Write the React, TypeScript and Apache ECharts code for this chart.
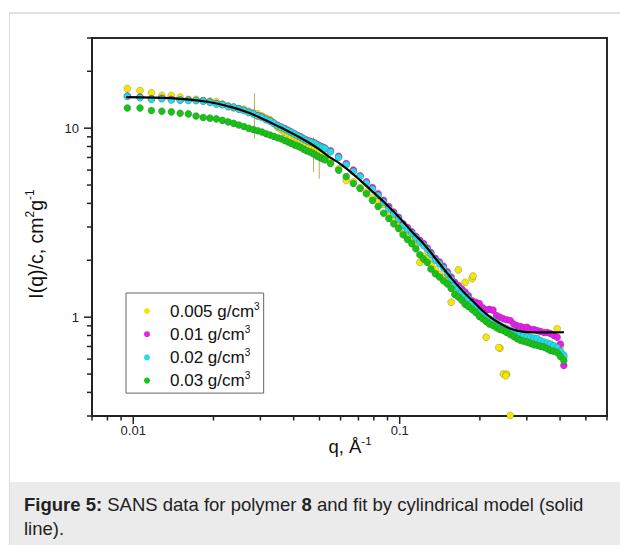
import React, { useEffect, useRef } from "react";
import * as echarts from "echarts";

const FONT = "'Liberation Sans', Arial, Helvetica, sans-serif";

// Legend / series names
const seriesNames = ["0.005 g/cm3", "0.01 g/cm3", "0.02 g/cm3", "0.03 g/cm3"];
const seriesColors = ["#f4e800", "#e61ee6", "#22dde6", "#16c416"];

// Low-q instrument configuration (q, 1/Å)
const qLow = [
  0.0095, 0.0106, 0.0117, 0.0128, 0.0139, 0.015, 0.0161, 0.0172, 0.0183, 0.0194,
  0.0205, 0.0216, 0.0227, 0.0238, 0.0249, 0.026, 0.0271, 0.0282, 0.0293, 0.0304,
  0.0315, 0.0326, 0.0337, 0.0348, 0.0359, 0.037, 0.0381, 0.0392, 0.0403, 0.0414,
  0.0425, 0.0436, 0.0447, 0.0458, 0.0469, 0.048, 0.0491, 0.0502, 0.0513, 0.0524,
];
const yellowLow = [
  16.2, 15.8, 15.4, 14.9, 14.9, 14.6, 14.2, 14.2, 14.0, 13.9,
  13.8, 13.4, 13.1, 12.8, 12.7, 12.6, 12.3, 12.0, 11.9, 11.6,
  11.3, 11.1, 10.6, 10.1, 9.8, 9.5, 9.3, 9.0, 8.9, 8.8,
  8.6, 8.4, 8.2, 8.0, 7.9, 7.8, 7.7, 7.6, 7.3, 7.1,
];
const magentaLow = [
  14.8, 14.6, 14.3, 14.4, 14.2, 14.1, 14.1, 14.0, 13.95, 13.75,
  13.5, 13.35, 13.05, 12.95, 12.65, 12.45, 12.15, 11.95, 11.65, 11.45,
  11.15, 10.95, 10.65, 10.35, 10.15, 9.95, 9.75, 9.55, 9.35, 9.15,
  9.0, 8.8, 8.65, 8.55, 8.45, 8.35, 8.2, 8.05, 7.95, 7.85,
];
const cyanLow = [
  14.7, 14.5, 14.2, 14.3, 14.1, 14.1, 14.0, 14.0, 13.9, 13.7,
  13.4, 13.3, 13.0, 12.9, 12.6, 12.4, 12.1, 11.9, 11.6, 11.4,
  11.1, 10.9, 10.6, 10.3, 10.1, 9.9, 9.7, 9.5, 9.3, 9.1,
  8.95, 8.75, 8.6, 8.5, 8.4, 8.3, 8.15, 8.0, 7.9, 7.8,
];
const greenLow = [
  12.8, 12.8, 12.4, 12.3, 12.2, 12.0, 11.9, 11.6, 11.4, 11.3,
  11.2, 11.0, 10.8, 10.6, 10.4, 10.2, 10.0, 9.85, 9.7, 9.55,
  9.35, 9.2, 9.05, 8.9, 8.8, 8.6, 8.45, 8.3, 8.15, 8.05,
  7.9, 7.75, 7.6, 7.5, 7.4, 7.25, 7.1, 7.0, 6.9, 6.8,
];

// Mid/high-q configuration
const qHigh = [
  0.055, 0.059, 0.063, 0.067, 0.071, 0.075, 0.079, 0.083, 0.087, 0.091,
  0.095, 0.099, 0.103, 0.107, 0.111, 0.115, 0.119, 0.123, 0.127, 0.131,
  0.136, 0.141, 0.146, 0.151, 0.156, 0.161, 0.166, 0.171, 0.176, 0.181,
  0.187, 0.193, 0.199, 0.205, 0.211, 0.217, 0.224, 0.231, 0.238, 0.245,
  0.252, 0.26, 0.268, 0.276, 0.284, 0.292, 0.301, 0.31, 0.319, 0.328,
  0.338, 0.348, 0.358, 0.368, 0.379, 0.39, 0.401, 0.413,
];
const yellowHigh = [
  6.7, 6.1, 5.3, 5.2, 4.85, 4.6, 4.3, 4.1, 3.95, 3.5,
  3.25, 3.06, 2.78, 2.65, 2.55, 2.4, 1.95, 2.1, 2.05, 1.9,
  1.78, 1.68, 1.6, 1.55, 1.2, 1.4, 1.78, 1.3, 1.53, 1.22,
  1.6, 1.1, 1.05, 1.0, 0.784, 0.95, 0.92, 0.9, 0.686, 0.5,
  0.5, 0.302, 0.82, 0.8, 0.78, 0.77, 0.76, 0.75, 0.74, 0.73,
  0.73, 0.72, 0.71, 0.7, 0.7, 0.868, 0.7, 0.614,
];
const magentaHigh = [
  7.6, 7.1, 6.5, 6.0, 5.6, 5.2, 4.85, 4.5, 4.15, 3.85,
  3.6, 3.38, 3.12, 2.98, 2.83, 2.68, 2.55, 2.45, 2.32, 2.2,
  2.05, 1.96, 1.86, 1.74, 1.63, 1.53, 1.47, 1.41, 1.36, 1.3,
  1.22, 1.2, 1.18, 1.12, 1.09, 1.1, 1.09, 1.02, 1.0, 0.98,
  0.97, 0.96, 0.92, 0.9, 0.893, 0.88, 0.885, 0.86, 0.86, 0.85,
  0.84, 0.83, 0.83, 0.82, 0.8, 0.784, 0.72, 0.555,
];
const cyanHigh = [
  7.5, 7.0, 6.4, 5.9, 5.55, 5.12, 4.75, 4.4, 4.05, 3.75,
  3.52, 3.32, 3.05, 2.92, 2.78, 2.63, 2.5, 2.4, 2.28, 2.15,
  2.0, 1.92, 1.82, 1.7, 1.59, 1.48, 1.42, 1.36, 1.31, 1.26,
  1.18, 1.12, 1.07, 1.03, 1.0, 0.98, 0.96, 0.93, 0.9, 0.885,
  0.87, 0.85, 0.84, 0.83, 0.815, 0.8, 0.79, 0.78, 0.775, 0.77,
  0.75, 0.738, 0.73, 0.72, 0.705, 0.69, 0.66, 0.63,
];
const greenHigh = [
  6.5, 6.0, 5.55, 5.1, 4.8, 4.5, 4.15, 3.85, 3.55, 3.33,
  3.12, 2.95, 2.73, 2.58, 2.45, 2.3, 2.14, 2.03, 1.95, 1.8,
  1.7, 1.63, 1.56, 1.5, 1.42, 1.32, 1.28, 1.23, 1.17, 1.14,
  1.1, 1.06, 1.01, 0.98, 0.95, 0.92, 0.905, 0.88, 0.86, 0.85,
  0.83, 0.81, 0.79, 0.77, 0.755, 0.745, 0.738, 0.725, 0.715, 0.71,
  0.7, 0.694, 0.68, 0.666, 0.66, 0.65, 0.62, 0.59,
];
const yellowExtraQ = [0.1885, 0.2355, 0.2505];
const yellowExtraI = [1.65, 0.69, 0.49];

// Cylindrical-model fit
const fitQ = [
  0.0094, 0.012, 0.015, 0.019, 0.023, 0.027, 0.031, 0.0356, 0.04, 0.0475,
  0.054, 0.0598, 0.066, 0.0711, 0.08, 0.09, 0.102, 0.112, 0.1231, 0.138,
  0.155, 0.172, 0.19, 0.205, 0.219, 0.24, 0.261, 0.28, 0.301, 0.35, 0.4135,
];
const fitI = [
  14.6, 14.5, 14.3, 13.8, 13.0, 12.1, 11.1, 10.1, 9.3, 8.1,
  7.1, 6.48, 5.8, 5.29, 4.55, 3.9, 3.25, 2.8, 2.44, 2.0,
  1.63, 1.38, 1.2, 1.08, 1.0, 0.92, 0.868, 0.845, 0.833, 0.83, 0.832,
];

// Error bars (0.005 g/cm3)
const errQ = [0.0285, 0.0475, 0.0499];
const errLo = [8.8, 5.85, 5.4];
const errHi = [15.3, 8.95, 7.93];

// Axes
const X_MIN = 0.007;
const X_MAX = 0.6;
const Y_MIN = 0.3;
const Y_MAX = 30;
const xTickVals = [
  0.007, 0.008, 0.009, 0.01, 0.02, 0.03, 0.04, 0.05, 0.06, 0.07, 0.08, 0.09,
  0.1, 0.2, 0.3, 0.4, 0.5, 0.6,
];
const yTickVals = [0.3, 0.4, 0.5, 0.6, 0.7, 0.8, 0.9, 1, 2, 3, 4, 5, 6, 7, 8, 9, 10, 20, 30];
const xMajor = [0.01, 0.1];
const yMajor = [1, 10];

const pts = (qs: number[], is: number[]) => qs.map((q, i) => [q, is[i]]);

export default function App() {
  const ref = useRef<HTMLDivElement>(null);
  useEffect(() => {
    const chart = echarts.init(ref.current!, null, { renderer: "svg" });
    const lowSets = [yellowLow, magentaLow, cyanLow, greenLow];
    const highSets = [yellowHigh, magentaHigh, cyanHigh, greenHigh];

    const scatter = seriesNames.map((name, k) => {
      let data = [...pts(qLow, lowSets[k]), ...pts(qHigh, highSets[k])];
      if (k === 0) data = data.concat(pts(yellowExtraQ, yellowExtraI));
      return {
        type: "scatter",
        name,
        data,
        symbol: "circle",
        symbolSize: 7,
        itemStyle: {
          color: seriesColors[k],
          borderColor: "rgba(70,70,70,0.45)",
          borderWidth: 0.6,
          opacity: 1,
        },
        z: 2,
        silent: true,
      };
    });

    const labelFmt = (v: number) =>
      v >= 1 ? String(Math.round(v)) : String(parseFloat(v.toPrecision(1)));

    const option: any = {
      animation: false,
      backgroundColor: "#ffffff",
      grid: {
        left: 92,
        top: 38,
        right: 13,
        bottom: 129,
        show: true,
        borderColor: "#2a2a2a",
        borderWidth: 2,
        backgroundColor: "transparent",
      },
      xAxis: {
        type: "log",
        logBase: 10,
        min: X_MIN,
        max: X_MAX,
        axisLine: { show: true, lineStyle: { color: "#222", width: 2 } },
        axisTick: { show: false },
        minorTick: { show: false },
        splitLine: { show: false },
        axisLabel: {
          showMinLabel: false,
          showMaxLabel: false,
          margin: 8,
          fontSize: 13,
          color: "#222",
          fontFamily: FONT,
          formatter: labelFmt,
        },
      },
      yAxis: {
        type: "log",
        logBase: 10,
        min: Y_MIN,
        max: Y_MAX,
        axisLine: { show: true, lineStyle: { color: "#222", width: 2 } },
        axisTick: { show: false },
        minorTick: { show: false },
        splitLine: { show: false },
        axisLabel: {
          showMinLabel: false,
          showMaxLabel: false,
          margin: 13,
          fontSize: 13,
          color: "#222",
          fontFamily: FONT,
          formatter: labelFmt,
        },
      },
      legend: {
        data: seriesNames,
        orient: "vertical",
        left: 126,
        top: 293,
        icon: "circle",
        itemWidth: 36,
        itemHeight: 6,
        itemGap: 4.7,
        padding: [8, 4, 4, 18],
        borderColor: "#666",
        borderWidth: 1,
        backgroundColor: "#fff",
        selectedMode: false,
        itemStyle: { borderWidth: 0 },
        formatter: (name: string) => `{a|${name.slice(0, -1)}}{s|${name.slice(-1)}}`,
        textStyle: {
          color: "#111",
          fontFamily: FONT,
          fontSize: 17,
          rich: {
            a: { fontSize: 17, lineHeight: 20, fontFamily: FONT, color: "#111" },
            s: { fontSize: 10, lineHeight: 10, verticalAlign: "top", fontFamily: FONT, color: "#111" },
          },
        },
      },
      graphic: [
        { type: "line", shape: { x1: 9, y1: 13, x2: 620, y2: 13 }, style: { stroke: "#e2e2e2", lineWidth: 2 }, silent: true },
        { type: "line", shape: { x1: 9.5, y1: 12, x2: 9.5, y2: 545 }, style: { stroke: "#dcdcdc", lineWidth: 1 }, silent: true },
        { type: "rect", shape: { x: 10, y: 482, width: 610, height: 63 }, style: { fill: "#ebebeb" }, silent: true },
        {
          type: "text",
          x: 24,
          y: 492,
          silent: true,
          style: {
            text: "{b|Figure 5:} SANS data for polymer {b|8} and fit by cylindrical model (solid\nline).",
            fontFamily: FONT,
            fontSize: 18.5,
            lineHeight: 24,
            fill: "#222",
            verticalAlign: "top",
            rich: {
              b: { fontWeight: "bold", fontFamily: FONT, fontSize: 18.5, lineHeight: 24, fill: "#222" },
            },
          },
        },
        {
          type: "text",
          x: 36,
          y: 244,
          rotation: Math.PI / 2,
          silent: true,
          style: {
            text: "{m|I(q)/c, cm}{s|2}{m|g}{s|-1}",
            align: "center",
            verticalAlign: "middle",
            fill: "#111",
            rich: {
              m: { fontSize: 19.5, lineHeight: 24, fontFamily: FONT, fill: "#111" },
              s: { fontSize: 12, lineHeight: 12, verticalAlign: "top", fontFamily: FONT, fill: "#111" },
            },
          },
        },
        {
          type: "text",
          x: 350,
          y: 446,
          silent: true,
          style: {
            text: "{m|q, Å}{s|-1}",
            align: "center",
            verticalAlign: "middle",
            fill: "#111",
            rich: {
              m: { fontSize: 18.5, lineHeight: 22, fontFamily: FONT, fill: "#111" },
              s: { fontSize: 11.5, lineHeight: 11, verticalAlign: "top", fontFamily: FONT, fill: "#111" },
            },
          },
        },
      ],
      series: [
        {
          type: "custom",
          name: "errbars",
          data: errQ.map((q, i) => [q, errLo[i], errHi[i]]),
          encode: { x: 0, y: [1, 2] },
          z: 1,
          silent: true,
          renderItem: (_p: any, api: any) => {
            const a = api.coord([api.value(0), api.value(1)]);
            const b = api.coord([api.value(0), api.value(2)]);
            return {
              type: "line",
              shape: { x1: a[0], y1: a[1], x2: b[0], y2: b[1] },
              style: { stroke: "#b9ab5c", lineWidth: 1 },
            };
          },
        },
        ...scatter,
        {
          type: "line",
          name: "fit",
          data: pts(fitQ, fitI),
          showSymbol: false,
          smooth: true,
          lineStyle: { color: "#000", width: 2.2 },
          z: 4,
          silent: true,
        },
        {
          type: "custom",
          name: "xticks",
          data: xTickVals.map((v) => [v, Y_MIN]),
          z: 5,
          silent: true,
          clip: false,
          renderItem: (_p: any, api: any) => {
            const v = api.value(0);
            const c = api.coord([v, Y_MIN]);
            const len = xMajor.some((m) => Math.abs(m - v) < 1e-9) ? 8 : 4.5;
            return {
              type: "line",
              shape: { x1: c[0], y1: c[1], x2: c[0], y2: c[1] + len },
              style: { stroke: "#222", lineWidth: 1.5 },
            };
          },
        },
        {
          type: "custom",
          name: "yticks",
          data: yTickVals.map((v) => [X_MIN, v]),
          z: 5,
          silent: true,
          clip: false,
          renderItem: (_p: any, api: any) => {
            const v = api.value(1);
            const c = api.coord([X_MIN, v]);
            const len = yMajor.some((m) => Math.abs(m - v) < 1e-9) ? 8 : 5;
            return {
              type: "line",
              shape: { x1: c[0], y1: c[1], x2: c[0] - len, y2: c[1] },
              style: { stroke: "#222", lineWidth: 1.5 },
            };
          },
        },
      ],
    };
    chart.setOption(option);
    return () => chart.dispose();
  }, []);
  return (
    <div
      ref={ref}
      style={{ position: "fixed", left: 0, top: 0, width: 620, height: 545, background: "#fff" }}
    />
  );
}
